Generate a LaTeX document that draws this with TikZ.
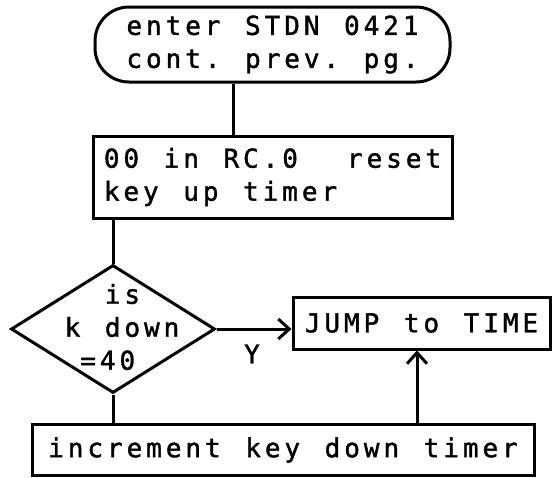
\documentclass[tikz,border=0pt]{standalone}
\usepackage{fontspec}
\usetikzlibrary{shapes.geometric,arrows.meta}
% typewriter-like monospaced lettering with wide character cells
\newfontfamily\typefont[LetterSpace=15.2,WordSpace=1.252,FakeBold=1.5]{DejaVu Sans Mono}
\begin{document}
\begin{tikzpicture}[x=1pt,y=-1pt,
  every node/.style={font=\typefont\fontsize{26}{33}\selectfont\frenchspacing, text=black},
  outline/.style={draw=black, line width=3pt},
  box/.style={outline, rectangle, inner sep=0pt},
  term/.style={outline, rectangle, rounded corners=34pt, inner sep=0pt, align=center},
  decision/.style={outline, diamond, inner sep=0pt},
  flow/.style={draw=black, line width=3pt},
  arr/.style={flow, -{Straight Barb[length=11pt,width=20pt]}}]
\useasboundingbox (0,0) rectangle (553,477);

% blocks
\node[term, minimum width=355pt, minimum height=75pt] (start) at (272.5,44.5)
  {enter STDN 0421\\cont. prev. pg.};
\node[box, minimum width=359pt, minimum height=82pt, align=left] (reset) at (272.5,177)
  {00 in RC.0\ \ reset\\key up timer};
\node[decision, minimum width=204pt, minimum height=128pt] (test) at (113,329) {};
\node[align=left, inner sep=0pt] (testtext) at (122,327)
  {\phantom{k }is\\k down\\\phantom{k}=40};
\node[box, minimum width=257pt, minimum height=52pt] (jump) at (421.5,323) {JUMP to TIME};
\node[box, minimum width=502pt, minimum height=51pt] (inc) at (283,450)
  {increment key down timer};
\node[inner sep=0pt] (ylab) at (252,354) {Y};

% connectors
\coordinate (s1) at ([xshift=-39.5pt]start.south);
\draw[flow] (s1) -- (s1 |- reset.north);
\draw[flow] (reset.south -| test.north) -- (test.north);
\draw[arr] (test.east) -- (test.east -| jump.west);
\draw[flow] (test.south) -- (test.south |- inc.north);
\coordinate (u1) at ([xshift=-4.5pt]jump.south);
\draw[arr] (u1 |- inc.north) -- (u1);
\end{tikzpicture}
\end{document}
